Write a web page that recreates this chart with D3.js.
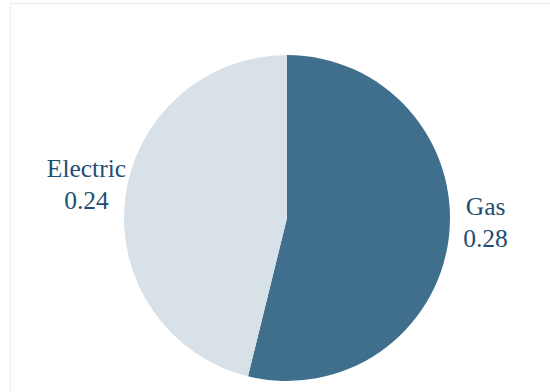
<!DOCTYPE html>
<html><head><meta charset="utf-8">
<script src="https://cdn.jsdelivr.net/npm/d3@7"></script>
<style>html,body{margin:0;padding:0;background:#fff;}svg{display:block;}</style>
</head><body>
<svg id="c" width="550" height="392"></svg>
<script>
const categories = ["Gas", "Electric"];
const values = [0.28, 0.24];
const colors = ["#3f6f8c", "#d9e1e8"];

const svg = d3.select("#c");
svg.append("rect").attr("x", 10.5).attr("y", 3.5).attr("width", 560).attr("height", 400)
  .attr("fill", "none").attr("stroke", "#f0f0f0").attr("stroke-width", 1.5);

const cx = 287, cy = 218, r = 163;
const data = categories.map((c, i) => ({ cat: c, val: values[i], color: colors[i] }));
const pie = d3.pie().sort(null).value(d => d.val);
const arcs = pie(data);
const arc = d3.arc().innerRadius(0).outerRadius(r);
const labelArc = d3.arc().innerRadius(200).outerRadius(200);

const g = svg.append("g").attr("transform", `translate(${cx},${cy})`);
g.selectAll("path").data(arcs).join("path")
  .attr("d", arc).attr("fill", d => d.data.color);

const lbl = g.selectAll("text").data(arcs).join("text")
  .attr("transform", d => { const [x, y] = labelArc.centroid(d); return `translate(${x - (d.data.cat === "Gas" ? 0 : 2)},${y})`; })
  .attr("text-anchor", "middle")
  .attr("font-family", "Liberation Serif, serif")
  .attr("font-size", 25.5)
  .attr("fill", "#1e4f72");
lbl.append("tspan").attr("x", 0).attr("y", d => d.data.cat === "Gas" ? -27 : -17).text(d => d.data.cat);
lbl.append("tspan").attr("x", 0).attr("dy", 32).text(d => d.data.val.toFixed(2));
</script>
</body></html>
